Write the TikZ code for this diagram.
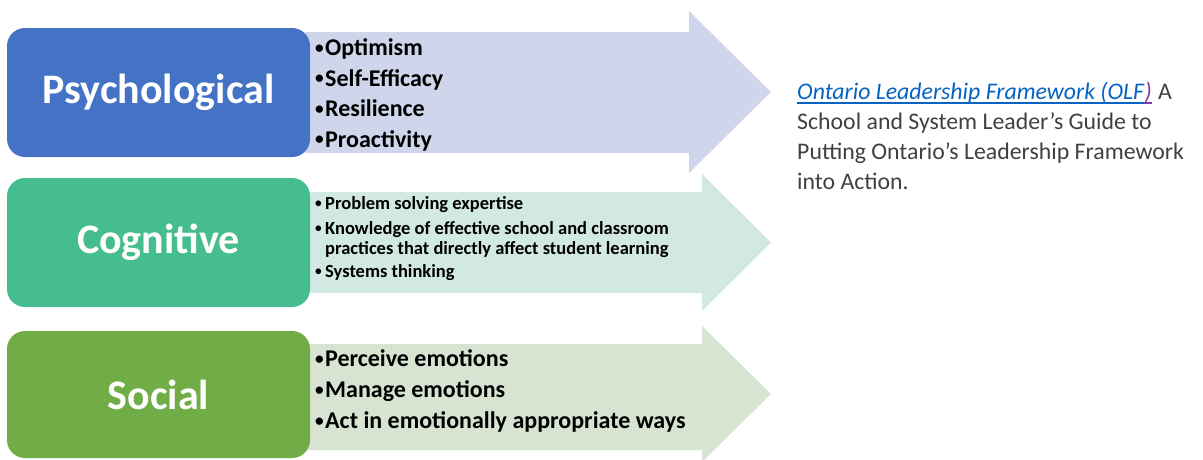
\documentclass[tikz,border=0pt]{standalone}
\usepackage{fontspec}
\setmainfont{Carlito}
\definecolor{psyc}{HTML}{4472C4}
\definecolor{cogn}{HTML}{46BD8E}
\definecolor{soci}{HTML}{70AD47}
\definecolor{psycL}{HTML}{CFD5EA}
\definecolor{cognL}{HTML}{D2E8E3}
\definecolor{sociL}{HTML}{D6E4D1}
\definecolor{linkblue}{HTML}{0563C1}
\definecolor{visited}{HTML}{7E3BA6}
\definecolor{graytext}{HTML}{404040}
\newcommand{\bul}{\makebox[10pt][l]{\raisebox{0.09em}{\scalebox{0.72}{\textbullet}}}}
\begin{document}
\begin{tikzpicture}[x=1pt,y=-1pt,
  catbox/.style={rounded corners=18pt, inner sep=0pt, minimum width=303pt,
    text=white, font=\fontsize{42}{50}\selectfont\bfseries},
  bigitem/.style={anchor=base west, inner sep=0pt, font=\fontsize{24}{28}\selectfont\bfseries},
  smallitem/.style={anchor=base west, inner sep=0pt, font=\fontsize{18.5}{20}\selectfont\bfseries},
  note/.style={anchor=base west, inner sep=0pt, text=graytext, font=\fontsize{23.8}{30}\selectfont},
  ulink/.style={line width=1.7pt}]
\useasboundingbox (0,0) rectangle (1203,459);
% arrows
\fill[psycL] (305,32) -- (689,32) -- (689,11) -- (771,92) -- (689,173) -- (689,153) -- (305,153) -- cycle;
\fill[cognL] (305,192) -- (702,192) -- (702,174) -- (771,242.5) -- (702,311) -- (702,293) -- (305,293) -- cycle;
\fill[sociL] (305,344) -- (702,344) -- (702,326) -- (771,394) -- (702,462) -- (702,450) -- (305,450) -- cycle;
% category boxes
\node[catbox, fill=psyc, minimum height=129pt] (psy) at (158.5,92.5) {Psychological};
\node[catbox, fill=cogn, minimum height=129pt] (cog) at (158.5,242.5) {Cognitive};
\node[catbox, fill=soci, minimum height=127pt] (soc) at (158.5,394.5) {Social};
% psychological items
\node[bigitem] (p1) at (315,55.5) {\bul Optimism};
\node[bigitem] (p2) at (315,86) {\bul Self-Efficacy};
\node[bigitem] (p3) at (315,116.5) {\bul Resilience};
\node[bigitem] (p4) at (315,147) {\bul Proactivity};
% cognitive items
\node[smallitem] (c1) at (315,209.5) {\bul Problem solving expertise};
\node[smallitem] (c2) at (315,234.5) {\bul Knowledge of effective school and classroom};
\node[smallitem] (c3) at (325,254.5) {practices that directly affect student learning};
\node[smallitem] (c4) at (315,277.5) {\bul Systems thinking};
% social items
\node[bigitem] (s1) at (315,366.5) {\bul Perceive emotions};
\node[bigitem] (s2) at (315,397.5) {\bul Manage emotions};
\node[bigitem] (s3) at (315,428.5) {\bul Act in emotionally appropriate ways};
% note
\node[note, text=linkblue, font=\fontsize{23.8}{30}\selectfont\itshape] (n1a) at (797,99.5) {Ontario Leadership Framework (OLF};
\node[note, text=visited, font=\fontsize{23.8}{30}\selectfont\itshape] (n1b) at (n1a.base east) {)};
\node[note] (n1c) at ([xshift=6pt]n1b.base east) {A};
\draw[ulink, linkblue] ([yshift=-3.5pt]n1a.base west) -- ([yshift=-3.5pt]n1a.base east);
\draw[ulink, visited] ([yshift=-3.5pt]n1b.base west) -- ([yshift=-3.5pt]n1b.base east);
\node[note] (n2) at (797,129.5) {School and System Leader’s Guide to};
\node[note] (n3) at (797,159.5) {Putting Ontario’s Leadership Framework};
\node[note] (n4) at (797,189.5) {into Action.};
\end{tikzpicture}
\end{document}
